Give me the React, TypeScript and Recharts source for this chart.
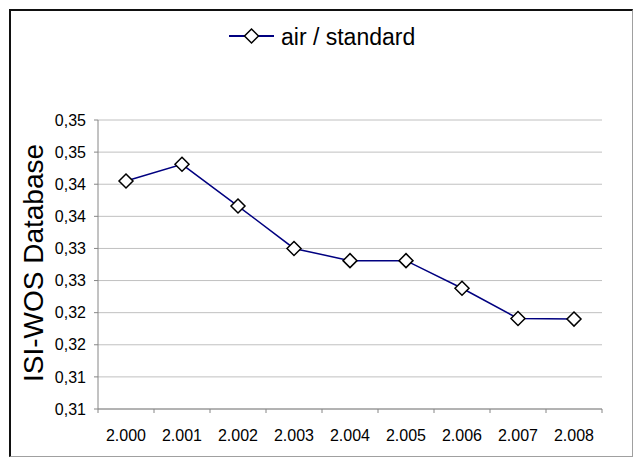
import { LineChart, Line, XAxis, YAxis, CartesianGrid, Legend } from "recharts";

const years = ["2.000", "2.001", "2.002", "2.003", "2.004", "2.005", "2.006", "2.007", "2.008"];
const airStandard = [0.3405, 0.3431, 0.3366, 0.33, 0.3281, 0.3281, 0.3238, 0.3191, 0.319];
const yTicks = [0.305, 0.31, 0.315, 0.32, 0.325, 0.33, 0.335, 0.34, 0.345, 0.35];
const yTickLabels = ["0,31", "0,31", "0,32", "0,32", "0,33", "0,33", "0,34", "0,34", "0,35", "0,35"];

const data = years.map((year, i) => ({ year, value: airStandard[i] }));

const FONT = "'Liberation Sans', Arial, sans-serif";
const AXIS = "#868686";
const NAVY = "#000080";

const Diamond = (props: any) => {
  const { cx, cy } = props;
  if (cx == null || cy == null) return null;
  const r = 7;
  return (
    <polygon
      points={`${cx},${cy - r} ${cx + r},${cy} ${cx},${cy + r} ${cx - r},${cy}`}
      fill="#fff"
      stroke="#000"
      strokeWidth={1.5}
    />
  );
};

// Excel-style ticks: marks sit between categories, labels at the centre
const XTick = (props: any) => {
  const { x, y, payload, index } = props;
  const half = payload?.offset || 28;
  const top = y - 21;
  return (
    <g>
      <line x1={x - half} x2={x - half} y1={top} y2={top + 4} stroke={AXIS} />
      {index === years.length - 1 && (
        <line x1={x + half} x2={x + half} y1={top} y2={top + 4} stroke={AXIS} />
      )}
      <text x={x} y={y} dy="0.71em" textAnchor="middle" fontSize={16} fontFamily={FONT} fill="#000">
        {payload.value}
      </text>
    </g>
  );
};

const LegendContent = () => (
  <svg width={633} height={40} style={{ display: "block" }}>
    <line x1={229} x2={274} y1={18} y2={18} stroke={NAVY} strokeWidth={2} />
    <Diamond cx={251.5} cy={18} />
    <text x={281} y={27} fontSize={23} fontFamily={FONT} fill="#000">
      air / standard
    </text>
  </svg>
);

const YTitle = () => (
  <text
    x={33}
    y={263}
    transform="rotate(-90 33 263)"
    textAnchor="middle"
    dominantBaseline="central"
    fontSize={28}
    fontFamily={FONT}
    fill="#000"
  >
    ISI-WOS Database
  </text>
);

export default function App() {
  return (
    <div style={{ position: "absolute", left: 0, top: 0, width: 633, height: 457, background: "#fff" }}>
      <LineChart width={633} height={457} data={data} margin={{ top: 120, right: 31, bottom: 0, left: 0 }}>
        <CartesianGrid vertical={false} stroke="#c0c0c0" />
        <XAxis
          dataKey="year"
          scale="band"
          height={48}
          axisLine={{ stroke: AXIS }}
          tickLine={false}
          tickSize={4}
          tickMargin={17}
          interval={0}
          tick={<XTick />}
        />
        <YAxis
          width={98}
          domain={[0.305, 0.35]}
          ticks={yTicks}
          interval={0}
          axisLine={{ stroke: AXIS }}
          tickLine={{ stroke: AXIS }}
          tickSize={4}
          tickMargin={8}
          tick={{ fontSize: 16, fontFamily: FONT, fill: "#000" }}
          tickFormatter={(_v: number, i: number) => yTickLabels[i]}
          label={<YTitle />}
        />
        <Legend
          verticalAlign="middle"
          align="center"
          layout="horizontal"
          wrapperStyle={{ top: 18, left: 0, width: 633 }}
          content={<LegendContent />}
        />
        <Line
          type="linear"
          dataKey="value"
          name="air / standard"
          stroke={NAVY}
          strokeWidth={1.5}
          dot={<Diamond />}
          activeDot={false}
          isAnimationActive={false}
        />
      </LineChart>
      <div
        style={{
          position: "absolute",
          left: 9,
          top: 9,
          width: 624,
          height: 448,
          boxSizing: "border-box",
          borderLeft: "2px solid #111",
          borderTop: "2px solid #111",
          borderRight: "1px solid #a0a0a0",
          borderBottom: "1px solid #a0a0a0",
          pointerEvents: "none",
        }}
      />
    </div>
  );
}
